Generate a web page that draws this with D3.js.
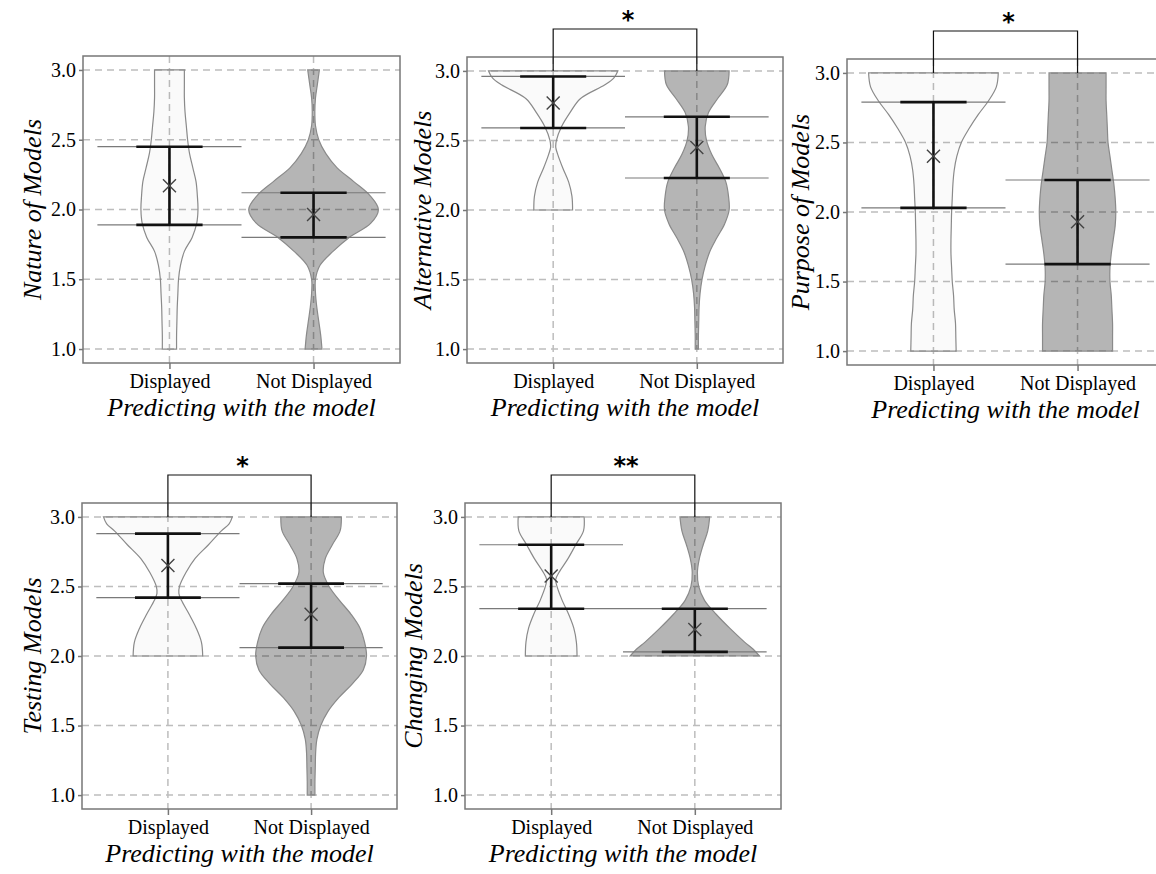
<!DOCTYPE html>
<html>
<head>
<meta charset="utf-8">
<script src="https://cdn.jsdelivr.net/npm/d3@7"></script>
<style>
  body { margin: 0; background: #fff; }
  text { font-family: 'Liberation Serif', 'DejaVu Serif', serif; }
</style>
</head>
<body>
<svg id="board"></svg>
<script>
// categories + tick labels
let categories = ['Displayed', 'Not Displayed']
let yTickValues = [1.0, 1.5, 2.0, 2.5, 3.0]
let yTitles = ['Nature of Models', 'Alternative Models', 'Purpose of Models', 'Testing Models', 'Changing Models']
let xTitle = 'Predicting with the model'
let sigLabels = ['', '*', '*', '*', '**']

// mean and error bar ends, [Displayed, Not Displayed]
let meanValues = [[2.17, 1.965], [2.77, 2.45], [2.40, 1.93], [2.65, 2.30], [2.575, 2.19]]
let barLow  = [[1.89, 1.80], [2.59, 2.23], [2.03, 1.625], [2.42, 2.06], [2.34, 2.03]]
let barHigh = [[2.45, 2.12], [2.96, 2.67], [2.79, 2.23], [2.88, 2.52], [2.80, 2.34]]

// violin densities: [value, relative width]
let densDisplayed = [
  [[1.0,0.11],[1.1,0.11],[1.2,0.115],[1.3,0.12],[1.4,0.13],[1.5,0.14],[1.6,0.17],[1.7,0.23],[1.8,0.35],[1.9,0.42],[2.0,0.44],[2.1,0.43],[2.2,0.41],[2.3,0.36],[2.4,0.31],[2.5,0.28],[2.6,0.26],[2.7,0.24],[2.8,0.23],[2.9,0.23],[3.0,0.23]],
  [[2.0,0.30],[2.1,0.29],[2.2,0.24],[2.3,0.15],[2.4,0.07],[2.45,0.04],[2.5,0.05],[2.6,0.13],[2.7,0.26],[2.8,0.42],[2.9,0.80],[2.95,0.94],[3.0,1.0]],
  [[1.0,0.35],[1.1,0.345],[1.2,0.34],[1.3,0.32],[1.4,0.31],[1.5,0.29],[1.6,0.28],[1.7,0.27],[1.8,0.27],[1.9,0.275],[2.0,0.28],[2.1,0.29],[2.2,0.30],[2.3,0.32],[2.4,0.36],[2.5,0.43],[2.6,0.55],[2.7,0.69],[2.8,0.85],[2.9,0.97],[3.0,1.0]],
  [[2.0,0.54],[2.1,0.52],[2.2,0.44],[2.3,0.33],[2.4,0.21],[2.45,0.17],[2.5,0.18],[2.6,0.28],[2.7,0.42],[2.8,0.63],[2.9,0.83],[2.95,0.95],[3.0,1.0]],
  [[2.0,0.40],[2.1,0.39],[2.2,0.35],[2.3,0.27],[2.4,0.17],[2.5,0.09],[2.55,0.07],[2.6,0.12],[2.7,0.26],[2.8,0.38],[2.9,0.50],[3.0,0.51]]
]
let densNotDisplayed = [
  [[1.0,0.13],[1.1,0.11],[1.2,0.08],[1.3,0.05],[1.4,0.03],[1.5,0.03],[1.6,0.10],[1.7,0.30],[1.8,0.55],[1.9,0.88],[2.0,1.0],[2.1,0.87],[2.2,0.62],[2.3,0.36],[2.4,0.19],[2.5,0.08],[2.6,0.03],[2.7,0.02],[2.8,0.03],[2.9,0.06],[3.0,0.09]],
  [[1.0,0.025],[1.1,0.025],[1.2,0.03],[1.3,0.035],[1.4,0.05],[1.5,0.08],[1.6,0.13],[1.7,0.20],[1.8,0.31],[1.9,0.43],[2.0,0.50],[2.1,0.49],[2.2,0.45],[2.3,0.35],[2.4,0.23],[2.5,0.15],[2.6,0.13],[2.7,0.18],[2.8,0.32],[2.9,0.47],[3.0,0.50]],
  [[1.0,0.54],[1.1,0.54],[1.2,0.54],[1.3,0.53],[1.4,0.52],[1.5,0.50],[1.6,0.50],[1.7,0.52],[1.8,0.55],[1.9,0.58],[2.0,0.59],[2.1,0.58],[2.2,0.56],[2.3,0.53],[2.4,0.50],[2.5,0.47],[2.6,0.46],[2.7,0.45],[2.8,0.44],[2.9,0.44],[3.0,0.44]],
  [[1.0,0.06],[1.1,0.06],[1.2,0.065],[1.3,0.07],[1.4,0.09],[1.5,0.15],[1.6,0.26],[1.7,0.43],[1.8,0.64],[1.9,0.81],[2.0,0.86],[2.1,0.83],[2.2,0.76],[2.3,0.62],[2.4,0.44],[2.5,0.28],[2.6,0.19],[2.7,0.22],[2.8,0.33],[2.9,0.45],[3.0,0.47]],
  [[2.0,1.0],[2.05,0.90],[2.1,0.77],[2.2,0.54],[2.3,0.33],[2.4,0.15],[2.5,0.06],[2.6,0.04],[2.7,0.07],[2.8,0.13],[2.9,0.20],[3.0,0.23]]
]

let width = 1156
let height = 874

// panel boxes (pixels)
let panels = [
  {left: 83,  right: 400,  top: 56,  bottom: 363, titleOff: 42},
  {left: 467, right: 783,  top: 57,  bottom: 363, titleOff: 36},
  {left: 847, right: 1164, top: 59,  bottom: 365, titleOff: 38},
  {left: 82,  right: 397,  top: 503, bottom: 809, titleOff: 41},
  {left: 465, right: 781,  top: 503, bottom: 809, titleOff: 43}
]

let board = d3.select('#board')
              .attr('width', width)
              .attr('height', height)

let drawPanel = (p, i) => {
  let g = board.append('g')

  let xScale = d3.scalePoint()
                 .domain(categories)
                 .range([p.left, p.right])
                 .padding(0.6)
  let step = xScale.step()

  let yScale = d3.scaleLinear()
                 .domain([0.9, 3.1])
                 .range([p.bottom, p.top])

  // grid
  g.selectAll('.hgrid')
    .data(yTickValues)
    .enter()
    .append('line')
    .attr('x1', p.left).attr('x2', p.right)
    .attr('y1', d => yScale(d)).attr('y2', d => yScale(d))
    .attr('stroke', '#bdbdbd').attr('stroke-width', 1.5)
    .attr('stroke-dasharray', '7,5')
  g.selectAll('.vgrid')
    .data(categories)
    .enter()
    .append('line')
    .attr('x1', d => xScale(d)).attr('x2', d => xScale(d))
    .attr('y1', p.top).attr('y2', p.bottom)
    .attr('stroke', '#bdbdbd').attr('stroke-width', 1.5)
    .attr('stroke-dasharray', '7,5')

  // violins
  let half = step * 0.45
  let dens = [densDisplayed[i], densNotDisplayed[i]]
  dens.forEach((pts, k) => {
    let cx = xScale(categories[k])
    let area = d3.area()
                 .curve(d3.curveCatmullRom.alpha(0.5))
                 .y(d => yScale(d[0]))
                 .x0(d => cx - d[1] * half)
                 .x1(d => cx + d[1] * half)
    g.append('path')
      .attr('d', area(pts))
      .attr('fill', '#000')
      .attr('fill-opacity', k == 0 ? 0.02 : 0.29)
      .attr('stroke', '#8a8a8a')
      .attr('stroke-width', 1.2)
  })

  // thin reference lines at bar ends
  categories.forEach((c, k) => {
    let cx = xScale(c)
    ;[barLow[i][k], barHigh[i][k]].forEach(v => {
      g.append('line')
        .attr('x1', cx - step * 0.5).attr('x2', cx + step * 0.5)
        .attr('y1', yScale(v)).attr('y2', yScale(v))
        .attr('stroke', '#7a7a7a').attr('stroke-width', 1.2)
    })
  })

  // error bars + mean marker
  categories.forEach((c, k) => {
    let cx = xScale(c)
    let cap = step * 0.23
    let lo = yScale(barLow[i][k])
    let hi = yScale(barHigh[i][k])
    g.append('line')
      .attr('x1', cx).attr('x2', cx).attr('y1', lo).attr('y2', hi)
      .attr('stroke', '#111').attr('stroke-width', 2.6)
    ;[lo, hi].forEach(y => {
      g.append('line')
        .attr('x1', cx - cap).attr('x2', cx + cap).attr('y1', y).attr('y2', y)
        .attr('stroke', '#111').attr('stroke-width', 2.6)
    })
    let my = yScale(meanValues[i][k])
    let s = 6.5
    g.append('path')
      .attr('d', `M${cx - s},${my - s}L${cx + s},${my + s}M${cx - s},${my + s}L${cx + s},${my - s}`)
      .attr('stroke', '#444').attr('stroke-width', 1.4).attr('fill', 'none')
  })

  // frame
  g.append('rect')
    .attr('x', p.left).attr('y', p.top)
    .attr('width', p.right - p.left).attr('height', p.bottom - p.top)
    .attr('fill', 'none').attr('stroke', '#777').attr('stroke-width', 1.5)

  // axes
  let yAxis = d3.axisLeft(yScale)
                .tickValues(yTickValues)
                .tickFormat(d3.format('.1f'))
                .tickSize(4)
                .tickPadding(3)
  let ya = g.append('g')
            .attr('transform', 'translate(' + p.left + ',0)')
            .call(yAxis)
  let xAxis = d3.axisBottom(xScale)
                .tickSize(6)
                .tickPadding(5)
  let xa = g.append('g')
            .attr('transform', 'translate(0,' + p.bottom + ')')
            .call(xAxis)
  ;[ya, xa].forEach(a => {
    a.select('.domain').remove()
    a.selectAll('line').attr('stroke', '#777').attr('stroke-width', 1.5)
    a.selectAll('text')
      .attr('fill', '#000')
      .style('font-family', "'Liberation Serif', serif")
      .style('font-size', '20px')
  })

  // titles
  g.append('text')
    .attr('x', (p.left + p.right) / 2)
    .attr('y', p.bottom + 53)
    .attr('text-anchor', 'middle')
    .style('font-style', 'italic')
    .style('font-size', '26px')
    .attr('fill', '#000')
    .text(xTitle)
  g.append('text')
    .attr('transform', 'translate(' + (p.left - p.titleOff) + ',' + ((p.top + p.bottom) / 2) + ') rotate(-90)')
    .attr('text-anchor', 'middle')
    .style('font-style', 'italic')
    .style('font-size', '26px')
    .attr('fill', '#000')
    .text(yTitles[i])

  // significance bracket
  if (sigLabels[i] != '') {
    let x1 = xScale(categories[0])
    let x2 = xScale(categories[1])
    let yTop = p.top - 28
    let yEnd = yScale(3.0)
    g.append('path')
      .attr('d', `M${x1},${yEnd}V${yTop}H${x2}V${yEnd}`)
      .attr('fill', 'none').attr('stroke', '#111').attr('stroke-width', 1.2)
    g.append('text')
      .attr('x', (x1 + x2) / 2 + 3)
      .attr('y', yTop - 1)
      .attr('text-anchor', 'middle')
      .style('font-family', "'DejaVu Sans', sans-serif")
      .style('font-weight', 'bold')
      .style('font-size', '24px')
      .attr('fill', '#000')
      .text(sigLabels[i])
  }
}

panels.forEach(drawPanel)
</script>
</body>
</html>
